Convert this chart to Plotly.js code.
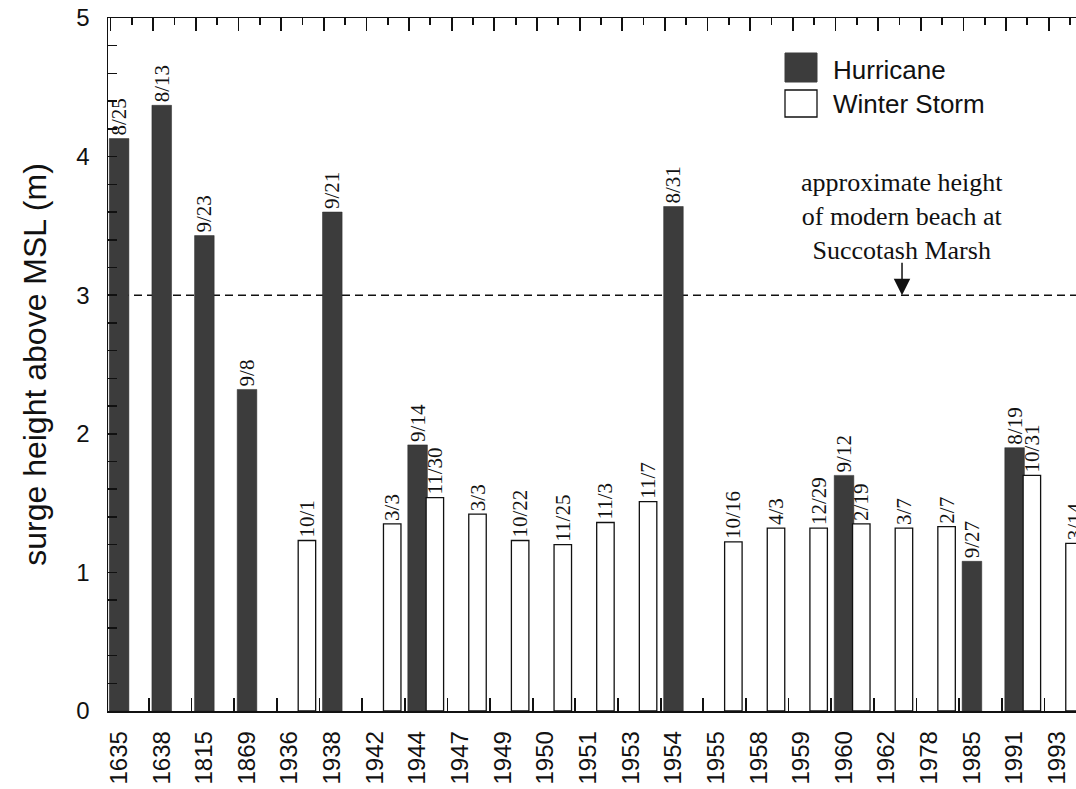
<!DOCTYPE html>
<html>
<head>
<meta charset="utf-8">
<script src="https://cdn.plot.ly/plotly-3.0.1.min.js"></script>
<style>
  html, body { margin: 0; padding: 0; background: #ffffff; overflow: hidden; }
  #chart { width: 1076px; height: 789px; }
</style>
</head>
<body>
<div id="chart"></div>
<script>
// ---- data ----
const years = ['1635','1638','1815','1869','1936','1938','1942','1944','1947','1949','1950','1951','1953','1954','1955','1958','1959','1960','1962','1978','1985','1991','1993'];

const hurricaneYears   = ['1635','1638','1815','1869','1938','1944','1954','1960','1985','1991'];
const hurricaneHeights = [4.13, 4.37, 3.43, 2.32, 3.60, 1.92, 3.64, 1.70, 1.08, 1.90];
const hurricaneDates   = ['8/25','8/13','9/23','9/8','9/21','9/14','8/31','9/12','9/27','8/19'];

const winterYears   = ['1936','1942','1944','1947','1949','1950','1951','1953','1955','1958','1959','1960','1962','1978','1991','1993'];
const winterHeights = [1.23, 1.35, 1.54, 1.42, 1.23, 1.20, 1.36, 1.51, 1.22, 1.32, 1.32, 1.35, 1.32, 1.33, 1.70, 1.21];
const winterDates   = ['10/1','3/3','11/30','3/3','10/22','11/25','11/3','11/7','10/16','4/3','12/29','2/19','3/7','2/7','10/31','3/14'];

const beachHeight = 3.0;
const beachNote = 'approximate height<br>of modern beach at<br>Succotash Marsh';
const seriesNames = ['Hurricane', 'Winter Storm'];

// ---- styling ----
const SANS = 'Liberation Sans, Arial, Helvetica, sans-serif';
const SERIF = 'Liberation Serif, Times New Roman, serif';
const DARK = '#3c3c3c';
const INK = '#111111';
const xRange = [-0.26, 22.44];

const traces = [
  {
    type: 'bar', name: seriesNames[0],
    x: hurricaneYears, y: hurricaneHeights,
    width: 0.46, offset: -0.23,
    marker: { color: DARK, line: { color: '#2a2a2a', width: 0.5 } },
    text: hurricaneDates, textposition: 'outside', textangle: -90,
    textfont: { family: SERIF, size: 21, color: INK },
    constraintext: 'none', showlegend: false, hoverinfo: 'x+y'
  },
  {
    type: 'bar', name: seriesNames[1],
    x: winterYears, y: winterHeights,
    width: 0.41, offset: 0.2,
    marker: { color: '#ffffff', line: { color: INK, width: 1.3 } },
    text: winterDates, textposition: 'outside', textangle: -90,
    textfont: { family: SERIF, size: 21, color: INK },
    constraintext: 'none', showlegend: false, hoverinfo: 'x+y'
  },
  // invisible helpers so the top and bottom tick-only axes are drawn
  { type: 'scatter', x: xRange, y: [0, 0], xaxis: 'x2', yaxis: 'y', mode: 'markers',
    marker: { opacity: 0, size: 1 }, showlegend: false, hoverinfo: 'skip' },
  { type: 'scatter', x: xRange, y: [0, 0], xaxis: 'x3', yaxis: 'y', mode: 'markers',
    marker: { opacity: 0, size: 1 }, showlegend: false, hoverinfo: 'skip' }
];

function px2paperX(px) { return (px - 108) / 968; }
function px2paperY(py) { return (711 - py) / 693; }

const layout = {
  width: 1076, height: 789,
  margin: { l: 108, r: 0, t: 18, b: 78, pad: 0 },
  paper_bgcolor: '#ffffff', plot_bgcolor: '#ffffff',
  barmode: 'overlay',
  showlegend: false,
  font: { family: SANS, color: INK },
  xaxis: {
    type: 'category', categoryorder: 'array', categoryarray: years,
    range: xRange, tickangle: -90,
    tickfont: { family: SANS, size: 24, color: INK },
    ticks: '', showline: true, linecolor: INK, linewidth: 1.5,
    showgrid: false, zeroline: false, ticklabelstandoff: 9, fixedrange: true
  },
  xaxis2: {
    overlaying: 'x', side: 'top', anchor: 'y', type: 'linear', range: xRange,
    tickmode: 'linear', tick0: 0.8, dtick: 1,
    ticks: 'inside', ticklen: 13, tickwidth: 1.8, tickcolor: INK,
    minor: { ticks: 'inside', tick0: 0.3, dtick: 1, ticklen: 7, tickwidth: 1.8, tickcolor: INK, showgrid: false },
    showticklabels: false, showline: true, linecolor: INK, linewidth: 1.5,
    showgrid: false, zeroline: false, fixedrange: true
  },
  xaxis3: {
    overlaying: 'x', side: 'bottom', anchor: 'y', type: 'linear', range: xRange,
    tickmode: 'linear', tick0: 0.7, dtick: 1,
    ticks: 'inside', ticklen: 13, tickwidth: 1.8, tickcolor: INK,
    showticklabels: false, showline: false, showgrid: false, zeroline: false, fixedrange: true
  },
  yaxis: {
    range: [0, 5], tickmode: 'linear', tick0: 0, dtick: 1,
    ticks: 'inside', ticklen: 9, tickwidth: 1.5, tickcolor: INK,
    minor: { ticks: 'inside', dtick: 0.2, ticklen: 9, tickwidth: 1.5, tickcolor: INK, showgrid: false },
    tickfont: { family: SANS, size: 24, color: INK },
    ticklabelstandoff: 12,
    showline: true, linecolor: INK, linewidth: 1.5,
    showgrid: false, zeroline: false, fixedrange: true,
    title: { text: 'surge height above MSL (m)', font: { family: SANS, size: 32, color: INK }, standoff: 20 }
  },
  shapes: [
    { type: 'line', xref: 'paper', x0: 0, x1: 1, yref: 'y', y0: beachHeight, y1: beachHeight,
      line: { color: INK, width: 1.5, dash: '8px,5px' }, layer: 'below' },
    { type: 'rect', xref: 'paper', yref: 'paper',
      x0: px2paperX(785), x1: px2paperX(817), y0: px2paperY(82), y1: px2paperY(53),
      fillcolor: DARK, line: { color: DARK, width: 1 } },
    { type: 'rect', xref: 'paper', yref: 'paper',
      x0: px2paperX(785), x1: px2paperX(817), y0: px2paperY(117), y1: px2paperY(90),
      fillcolor: '#ffffff', line: { color: INK, width: 1.3 } }
  ],
  annotations: [
    { xref: 'paper', yref: 'paper', x: px2paperX(831), y: px2paperY(70), xanchor: 'left', yanchor: 'middle',
      text: seriesNames[0], showarrow: false, font: { family: SANS, size: 26, color: INK } },
    { xref: 'paper', yref: 'paper', x: px2paperX(831), y: px2paperY(104), xanchor: 'left', yanchor: 'middle',
      text: seriesNames[1], showarrow: false, font: { family: SANS, size: 26, color: INK } },
    { xref: 'x', yref: 'y', x: 18.36, y: 3.57, xanchor: 'center', yanchor: 'middle',
      text: beachNote, showarrow: false, align: 'center',
      font: { family: SERIF, size: 26, color: INK } },
    { xref: 'x', yref: 'y', x: 18.36, y: beachHeight, text: '', showarrow: true,
      ax: 0, ay: -34, arrowhead: 2, arrowsize: 2.2, arrowwidth: 1.5, arrowcolor: INK, standoff: 0 }
  ]
};

Plotly.newPlot('chart', traces, layout, { staticPlot: true, displayModeBar: false });
</script>
</body>
</html>
